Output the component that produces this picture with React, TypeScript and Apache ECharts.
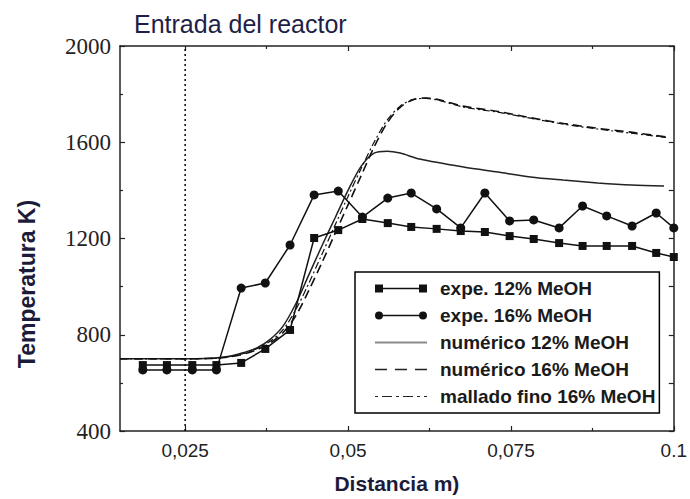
import React, { useEffect, useRef } from "react";
import * as echarts from "echarts";

// Experimental measurement positions (m)
const expeDist = [
  0.0185, 0.0222, 0.0261, 0.0298, 0.0336, 0.0373, 0.0411, 0.0448, 0.0485, 0.0522, 0.0561,
  0.0597, 0.0636, 0.0673, 0.071, 0.0748, 0.0785, 0.0824, 0.086, 0.0897, 0.0936, 0.0973, 0.1,
];
const expe12 = [
  674, 674, 674, 674, 683, 741, 820, 1202, 1235, 1281, 1264, 1248, 1240, 1231, 1227, 1210, 1198,
  1181, 1169, 1169, 1169, 1140, 1123,
];
const expe16 = [
  654, 654, 654, 654, 994, 1015, 1173, 1381, 1397, 1289, 1368, 1389, 1323, 1244, 1389, 1273, 1277,
  1244, 1335, 1294, 1252, 1306, 1244,
];

// Numerical results
const num12Dist = [
  0.015, 0.02, 0.025, 0.028, 0.03, 0.032, 0.034, 0.036, 0.038, 0.04, 0.042, 0.044, 0.046, 0.048,
  0.05, 0.052, 0.054, 0.056, 0.058, 0.061, 0.0677, 0.073, 0.078, 0.083, 0.0883, 0.0935, 0.0985,
];
const num12 = [
  700, 700, 700, 701, 704, 712, 726, 745, 780, 835, 930, 1050, 1170, 1285, 1400, 1500, 1555, 1563,
  1555, 1530, 1497, 1476, 1456, 1443, 1431, 1422, 1418,
];
const num16Dist = [
  0.015, 0.02, 0.025, 0.028, 0.03, 0.032, 0.034, 0.036, 0.038, 0.04, 0.042, 0.044, 0.046, 0.048,
  0.05, 0.052, 0.054, 0.056, 0.058, 0.06, 0.062, 0.064, 0.0677, 0.073, 0.078, 0.0831, 0.0883,
  0.0934, 0.0988,
];
const num16 = [
  700, 700, 700, 701, 703, 709, 720, 738, 765, 808, 880, 985, 1100, 1220, 1340, 1460, 1580, 1680,
  1745, 1777, 1784, 1776, 1750, 1728, 1702, 1678, 1658, 1642, 1622,
];
const fineDist = [
  0.015, 0.02, 0.025, 0.028, 0.03, 0.032, 0.034, 0.036, 0.038, 0.04, 0.042, 0.044, 0.046, 0.048,
  0.05, 0.052, 0.054, 0.056, 0.058, 0.06, 0.062, 0.064, 0.0677, 0.073, 0.078, 0.0831, 0.0883,
  0.0934, 0.0988,
];
const fine16 = [
  700, 700, 700, 701, 703, 710, 722, 742, 772, 820, 905, 1015, 1135, 1255, 1375, 1490, 1600, 1692,
  1750, 1778, 1782, 1774, 1746, 1725, 1700, 1675, 1655, 1638, 1620,
];

const seriesNames = [
  "expe. 12% MeOH",
  "expe. 16% MeOH",
  "numérico 12% MeOH",
  "numérico 16% MeOH",
  "mallado fino 16% MeOH",
];

const xTickValues = [0.025, 0.05, 0.075, 0.1];
const xTickLabels = ["0,025", "0,05", "0,075", "0.1"];
const xMinorTicks = [0.0375, 0.0625, 0.0875];
const markerDistance = 0.025;
const yRange = [400, 2000];

// Legend icon shapes (52 x 8 box)
const corners = "M0,0h0.01v0.01h-0.01z M51.99,7.99h0.01v0.01h-0.01z ";
const legendIcons = [
  "path://M0,0h8v8h-8z M8,3.2h36v1.6h-36z M44,0h8v8h-8z",
  "path://M0,4a4,4 0 1,0 8,0a4,4 0 1,0 -8,0z M8,3.2h36v1.6h-36z M44,4a4,4 0 1,0 8,0a4,4 0 1,0 -8,0z",
  "path://" + corners + "M0,3.1h52v1.8h-52z",
  "path://" + corners + "M0,3.2h12v1.6h-12z M20,3.2h12v1.6h-12z M40,3.2h12v1.6h-12z",
  "path://" + corners +
    "M0,3.4h3v1.2h-3z M7,3.4h10v1.2h-10z M21,3.4h3v1.2h-3z M28,3.4h10v1.2h-10z M42,3.4h3v1.2h-3z M49,3.4h3v1.2h-3z",
];
const legendColors = ["#111", "#111", "#8a8a8a", "#222", "#222"];

const zip = (xs: number[], ys: number[]) => xs.map((x, i) => [x, ys[i]]);

export default function App() {
  const ref = useRef<HTMLDivElement>(null);

  useEffect(() => {
    if (!ref.current) return;
    const chart = echarts.init(ref.current, null, { renderer: "svg" });
    const axisColor = "#222";
    const xBase = {
      type: "value" as const,
      min: 0.015,
      max: 0.1,
      splitLine: { show: false },
    };
    const yBase = {
      type: "value" as const,
      min: yRange[0],
      max: yRange[1],
      interval: 400,
      splitLine: { show: false },
      minorSplitLine: { show: false },
    };
    const option: any = {
      animation: false,
      backgroundColor: "#fff",
      title: {
        text: "Entrada del reactor",
        left: 129,
        top: 6,
        textStyle: {
          fontSize: 25,
          fontWeight: "normal",
          color: "#1e1e46",
          fontFamily: "Liberation Sans",
        },
      },
      grid: { left: 120, right: 16, top: 46, bottom: 68 },
      legend: {
        orient: "vertical",
        left: 355,
        top: 272,
        data: seriesNames.map((name, i) => ({
          name,
          icon: legendIcons[i],
          itemStyle: { color: legendColors[i], borderWidth: 0 },
        })),
        symbolKeepAspect: false,
        backgroundColor: "#fff",
        borderColor: "#000",
        borderWidth: 1.5,
        borderRadius: 0,
        padding: [6, 4, 6, 20],
        itemGap: 6,
        itemWidth: 52,
        itemHeight: 8,
        textStyle: {
          fontSize: 19,
          fontWeight: "bold",
          fontFamily: "Liberation Sans",
          color: "#1a1a1a",
          padding: [0, 0, 0, 8],
          lineHeight: 21,
        },
        z: 10,
      },
      graphic: [
        {
          type: "text",
          x: 27,
          y: 284,
          rotation: Math.PI / 2,
          z: 10,
          style: {
            text: "Temperatura K)",
            fontSize: 23,
            fontWeight: "bold",
            fontFamily: "Liberation Sans",
            fill: "#1c1c3a",
            align: "center",
            verticalAlign: "middle",
            textAlign: "center",
            textVerticalAlign: "middle",
          },
        },
      ],
      xAxis: [
        {
          ...xBase,
          position: "bottom",
          name: "Distancia m)",
          nameLocation: "middle",
          nameGap: 42,
          nameTextStyle: {
            fontSize: 21,
            fontWeight: "bold",
            fontFamily: "Liberation Sans",
            color: "#1c1c3a",
          },
          axisLine: { show: true, lineStyle: { color: axisColor, width: 1.5 } },
          axisTick: {
            show: true,
            inside: true,
            length: 5,
            customValues: xTickValues,
            lineStyle: { color: axisColor, width: 1.2 },
          },
          axisLabel: {
            show: true,
            customValues: xTickValues,
            margin: 10,
            fontSize: 19,
            fontFamily: "Liberation Sans",
            color: "#222",
            formatter: (v: number) => {
              const i = xTickValues.findIndex((t) => Math.abs(t - v) < 1e-9);
              return i >= 0 ? xTickLabels[i] : "";
            },
          },
        },
        {
          ...xBase,
          position: "bottom",
          axisLine: { show: false },
          axisTick: {
            show: true,
            inside: true,
            length: 3,
            customValues: xMinorTicks,
            lineStyle: { color: axisColor, width: 1.2 },
          },
          axisLabel: { show: false },
        },
        {
          ...xBase,
          position: "top",
          axisLine: { show: true, lineStyle: { color: axisColor, width: 1.5 } },
          axisTick: {
            show: true,
            inside: true,
            length: 5,
            customValues: xTickValues,
            lineStyle: { color: axisColor, width: 1.2 },
          },
          axisLabel: { show: false },
        },
        {
          ...xBase,
          position: "top",
          axisLine: { show: false },
          axisTick: {
            show: true,
            inside: true,
            length: 3,
            customValues: xMinorTicks,
            lineStyle: { color: axisColor, width: 1.2 },
          },
          axisLabel: { show: false },
        },
      ],
      yAxis: [
        {
          ...yBase,
          position: "left",
          axisLine: { show: true, lineStyle: { color: axisColor, width: 1.5 } },
          axisTick: { show: true, inside: true, length: 5, lineStyle: { color: axisColor, width: 1.2 } },
          minorTick: { show: true, splitNumber: 2, length: 3, lineStyle: { color: axisColor, width: 1.2 } },
          axisLabel: {
            fontSize: 23,
            fontFamily: "Liberation Serif",
            color: "#222",
            margin: 9,
            formatter: (v: number) => String(v),
          },
        },
        {
          ...yBase,
          position: "right",
          axisLine: { show: true, lineStyle: { color: axisColor, width: 1.5 } },
          axisTick: { show: true, inside: true, length: 5, lineStyle: { color: axisColor, width: 1.2 } },
          minorTick: { show: true, splitNumber: 2, length: 5, lineStyle: { color: axisColor, width: 1.2 } },
          axisLabel: { show: false },
        },
      ],
      series: [
        {
          name: "referencia",
          type: "line",
          data: [
            [markerDistance, yRange[0]],
            [markerDistance, yRange[1]],
          ],
          symbol: "none",
          silent: true,
          lineStyle: { color: "#000", type: [2, 3], width: 1.5 },
          z: 1,
        },
        {
          name: seriesNames[0],
          type: "line",
          data: zip(expeDist, expe12),
          symbol: "rect",
          symbolSize: 8,
          lineStyle: { color: "#111", width: 1.5 },
          itemStyle: { color: "#111" },
          z: 5,
        },
        {
          name: seriesNames[1],
          type: "line",
          data: zip(expeDist, expe16),
          symbol: "circle",
          symbolSize: 9,
          lineStyle: { color: "#111", width: 1.5 },
          itemStyle: { color: "#111" },
          z: 5,
        },
        {
          name: seriesNames[2],
          type: "line",
          data: zip(num12Dist, num12),
          symbol: "none",
          smooth: 0.3,
          lineStyle: { color: "#222", width: 1.5 },
        },
        {
          name: seriesNames[3],
          type: "line",
          data: zip(num16Dist, num16),
          symbol: "none",
          smooth: 0.3,
          lineStyle: { color: "#111", width: 1.6, type: [9, 5] },
        },
        {
          name: seriesNames[4],
          type: "line",
          data: zip(fineDist, fine16),
          symbol: "none",
          smooth: 0.3,
          lineStyle: { color: "#111", width: 1.2, type: [7, 3, 2, 3] },
        },
      ],
    };
    chart.setOption(option);
    return () => chart.dispose();
  }, []);

  return (
    <div
      ref={ref}
      style={{ position: "fixed", left: 0, top: 0, width: 690, height: 499, background: "#fff" }}
    />
  );
}
